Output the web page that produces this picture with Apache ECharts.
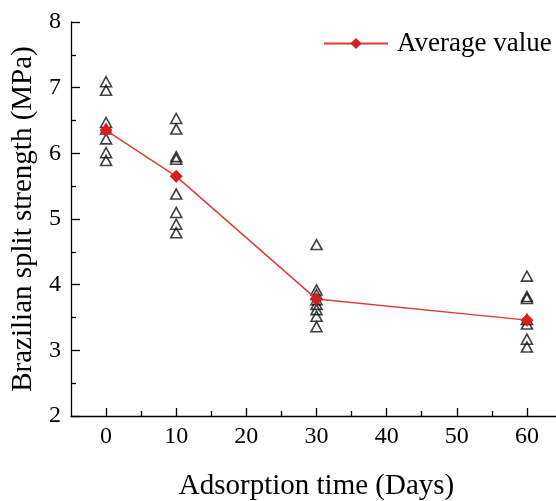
<!DOCTYPE html>
<html lang="en" style="height: 100%">
<head>
  <meta charset="utf-8">
</head>
<body style="height: 100%; margin: 0; background: #fff">
  <div id="container" style="width: 556px; height: 501px"></div>

  <script type="text/javascript" src="https://cdn.jsdelivr.net/npm/echarts@6/dist/echarts.min.js"></script>

  <script type="text/javascript">
    var dom = document.getElementById('container');
    var myChart = echarts.init(dom, null, { renderer: 'canvas' });

    const days = [0, 10, 30, 60];
    const averageValue = [6.35, 5.65, 3.78, 3.46];
    const samples0 = [7.09, 6.96, 6.47, 6.37, 6.22, 6.01, 5.89];
    const samples10 = [6.53, 6.37, 5.95, 5.91, 5.38, 5.10, 4.92, 4.79];
    const samples30 = [4.61, 3.92, 3.85, 3.77, 3.70, 3.62, 3.52, 3.36];
    const samples60 = [4.13, 3.82, 3.79, 3.47, 3.40, 3.17, 3.05];
    const xMajorTicks = [0, 10, 20, 30, 40, 50, 60];
    const xMinorTicks = [5, 15, 25, 35, 45, 55];

    const font = 'Liberation Serif';
    const sampleGroups = [samples0, samples10, samples30, samples60];
    const scatterData = [];
    sampleGroups.forEach(function (group, i) {
      group.forEach(function (v) {
        scatterData.push([days[i], v]);
      });
    });

    var option = {
      animation: false,
      textStyle: { fontFamily: font, color: '#000' },
      grid: { left: 71, right: -6, top: 22, bottom: 85, outerBoundsMode: 'none', containLabel: false },
      legend: {
        data: ['Average value'],
        left: 323,
        top: 30,
        padding: 0,
        itemWidth: 64,
        itemHeight: 14,
        textStyle: { fontFamily: font, fontSize: 27, color: '#000', padding: [0, 0, 0, 4] }
      },
      xAxis: [
        {
          type: 'value',
          min: -5,
          max: 65,
          name: 'Adsorption time (Days)',
          nameLocation: 'middle',
          nameGap: 56,
          nameTextStyle: { fontFamily: font, fontSize: 29, color: '#000' },
          axisLine: { show: true, onZero: false, lineStyle: { color: '#000', width: 1.3 } },
          axisTick: {
            show: true,
            inside: true,
            length: 8,
            customValues: xMajorTicks,
            lineStyle: { color: '#000', width: 1.3 }
          },
          axisLabel: {
            customValues: xMajorTicks,
            fontFamily: font,
            fontSize: 24,
            color: '#000',
            margin: 9
          },
          splitLine: { show: false }
        },
        {
          type: 'value',
          min: -5,
          max: 65,
          position: 'bottom',
          axisLine: { show: false, onZero: false },
          axisTick: {
            show: true,
            inside: true,
            length: 5,
            customValues: xMinorTicks,
            lineStyle: { color: '#000', width: 1.3 }
          },
          axisLabel: { show: false },
          splitLine: { show: false }
        }
      ],
      yAxis: {
        type: 'value',
        min: 2,
        max: 8,
        interval: 1,
        name: 'Brazilian split strength (MPa)',
        nameLocation: 'middle',
        nameRotate: 90,
        nameGap: 31,
        nameTextStyle: { fontFamily: font, fontSize: 29, color: '#000' },
        axisLine: { show: true, onZero: false, lineStyle: { color: '#000', width: 1.3 } },
        axisTick: { show: true, inside: true, length: 9, lineStyle: { color: '#000', width: 1.3 } },
        minorTick: { show: true, splitNumber: 2, length: 5, lineStyle: { color: '#000', width: 1.3 } },
        axisLabel: { fontFamily: font, fontSize: 24, color: '#000', margin: 10 },
        splitLine: { show: false }
      },
      series: [
        {
          name: 'Samples',
          type: 'scatter',
          data: scatterData,
          symbol: 'triangle',
          symbolSize: [11, 10],
          itemStyle: { color: 'rgba(0,0,0,0)', borderColor: '#111', borderWidth: 1.6 },
          z: 2
        },
        {
          name: 'Average value',
          type: 'line',
          data: days.map(function (d, i) { return [d, averageValue[i]]; }),
          symbol: 'diamond',
          symbolSize: 13,
          lineStyle: { color: '#e03b3b', width: 1.5 },
          itemStyle: { color: '#d81e1e' },
          z: 3
        }
      ]
    };

    myChart.setOption(option);
    window.addEventListener('resize', myChart.resize);
  </script>
</body>
</html>
